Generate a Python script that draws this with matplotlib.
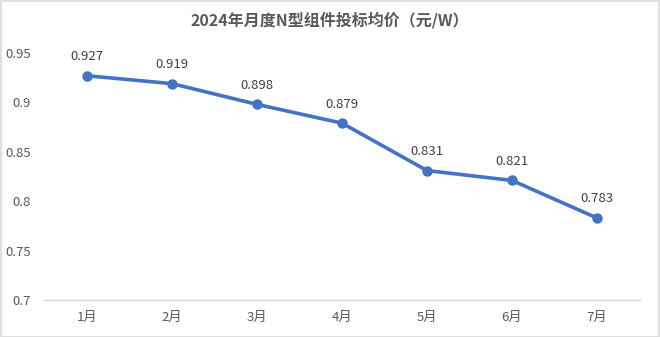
import matplotlib
matplotlib.use("Agg")
import matplotlib.pyplot as plt
from matplotlib.patches import Rectangle

plt.rcParams['font.family'] = ['Noto Sans CJK SC', 'DejaVu Sans']

months = ["1月", "2月", "3月", "4月", "5月", "6月", "7月"]
prices = [0.927, 0.919, 0.898, 0.879, 0.831, 0.821, 0.783]
yticks = [0.7, 0.75, 0.8, 0.85, 0.9, 0.95]
ytick_labels = ["0.7", "0.75", "0.8", "0.85", "0.9", "0.95"]
title = "2024年月度N型组件投标均价（元/W）"

fig = plt.figure(figsize=(6.6, 3.37), dpi=100)
fig.patches.append(Rectangle((0.001, 0.001), 0.997, 0.996, transform=fig.transFigure,
                             fill=False, edgecolor="#D9D9D9", linewidth=1.2))
ax = fig.add_axes([0.0674, 0.1098, 0.9016, 0.7329])

x = list(range(len(months)))
ax.plot(x, prices, color="#4472C4", linewidth=2.6, marker="o", markersize=6.5,
        markerfacecolor="#4472C4", markeredgecolor="#4472C4", zorder=3)
for xi, v in zip(x, prices):
    ax.annotate(f"{v:.3f}", (xi, v), xytext=(0, 9), textcoords="offset points",
                ha="center", va="bottom", fontsize=9.5, color="#404040")

ax.set_xlim(-0.5, len(months) - 0.5)
ax.set_ylim(0.7, 0.95)
ax.set_xticks(x)
ax.set_xticklabels(months)
ax.set_yticks(yticks)
ax.set_yticklabels(ytick_labels)
ax.tick_params(axis="both", length=0, labelsize=9.5, labelcolor="#595959")
ax.tick_params(axis="x", pad=8)
ax.tick_params(axis="y", pad=10)
for s in ["top", "right", "left"]:
    ax.spines[s].set_visible(False)
ax.spines["bottom"].set_color("#D9D9D9")
ax.spines["bottom"].set_linewidth(1)

fig.text(0.5, 0.94, title, ha="center", va="center", fontsize=11.5,
         fontweight="bold", color="#595959")

fig.savefig("out.png", dpi=100)
